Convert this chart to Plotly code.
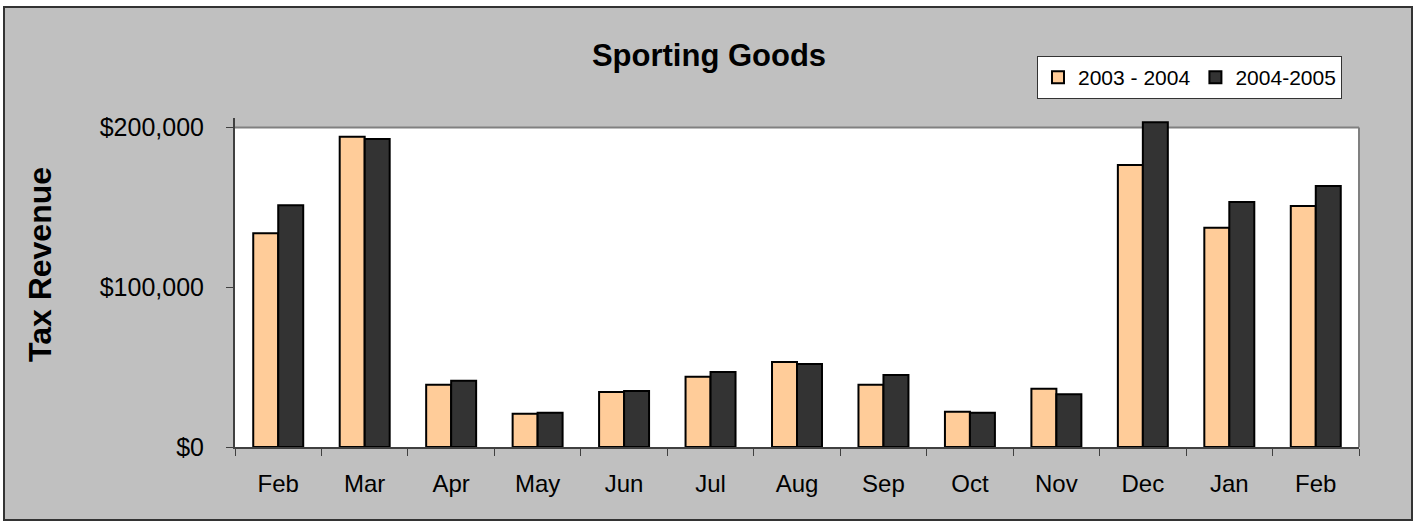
import plotly.graph_objects as go

months = ["Feb", "Mar", "Apr", "May", "Jun", "Jul", "Aug", "Sep", "Oct", "Nov", "Dec", "Jan", "Feb"]
rev_2003_2004 = [133800, 194200, 39000, 20800, 34400, 44000, 53200, 39000, 22100, 36500, 176500, 137300, 150900]
rev_2004_2005 = [151300, 192800, 41500, 21500, 35100, 46900, 52000, 45100, 21500, 33000, 203300, 153400, 163400]
y_ticks = [0, 100000, 200000]
y_tick_text = ["$0", "$100,000", "$200,000"]

W, H = 1418, 523
L, R, T, B = 235, 1359, 118, 447
YTOP = 200000
YMAX = YTOP * (B - T) / (B - 127.5)
pw, ph = R - L, B - T

def px_x(p):
    return (p - L) / pw

def px_y(p):
    return (B - p) / ph

FONT = "Arial, Liberation Sans, sans-serif"
x = list(range(len(months)))

fig = go.Figure()
fig.add_trace(go.Bar(x=x, y=rev_2003_2004, name="2003 - 2004",
                     marker=dict(color="#FFCC99", line=dict(color="#000000", width=2))))
fig.add_trace(go.Bar(x=x, y=rev_2004_2005, name="2004-2005",
                     marker=dict(color="#333333", line=dict(color="#000000", width=2))))

shapes = [
    # outer chart frame
    dict(type="rect", xref="paper", yref="paper", x0=px_x(4), x1=px_x(1412), y0=px_y(520), y1=px_y(7),
         fillcolor="#C0C0C0", line=dict(color="#333333", width=2), layer="below"),
    # plot area white background up to $200,000
    dict(type="rect", xref="paper", yref="y", x0=0, x1=1, y0=0, y1=YTOP,
         fillcolor="#FFFFFF", line=dict(width=0), layer="below"),
    dict(type="line", xref="paper", yref="y", x0=0, x1=1, y0=YTOP, y1=YTOP,
         line=dict(color="#808080", width=2), layer="below"),
    dict(type="line", xref="paper", yref="y", x0=1, x1=1, y0=0, y1=YTOP,
         line=dict(color="#808080", width=2), layer="below"),
]

annotations = [
    dict(text="<b>Tax Revenue</b>", xref="paper", yref="paper", x=px_x(40), y=px_y(265),
         xanchor="center", yanchor="middle", textangle=-90, showarrow=False,
         font=dict(size=32, family=FONT, color="#000000")),
]

fig.update_layout(
    width=W, height=H,
    margin=dict(l=L, r=W - R, t=T, b=H - B, pad=0),
    paper_bgcolor="#FFFFFF",
    plot_bgcolor="rgba(0,0,0,0)",
    barmode="group", bargap=0.422, bargroupgap=0,
    font=dict(family=FONT, color="#000000"),
    title=dict(text="<b>Sporting Goods</b>", x=709 / W, xanchor="center", xref="container",
               y=1 - 55 / H, yanchor="middle", yref="container",
               font=dict(size=31, family=FONT, color="#000000")),
    legend=dict(orientation="h", xref="container", yref="container",
                x=1037 / W, y=1 - 56 / H, xanchor="left", yanchor="top",
                bgcolor="#FFFFFF", bordercolor="#333333", borderwidth=1,
                font=dict(size=21, family=FONT, color="#000000"),
                itemclick=False, traceorder="normal"),
    shapes=shapes,
    annotations=annotations,
    showlegend=True,
)

fig.update_xaxes(
    range=[-0.5, len(months) - 0.5],
    tickmode="array", tickvals=x, ticktext=months,
    ticks="", showgrid=False, zeroline=False,
    showline=True, linecolor="#404040", linewidth=2,
    tickfont=dict(size=24, family=FONT, color="#000000"),
    ticklabelstandoff=14,
    minor=dict(tickmode="linear", tick0=-0.5, dtick=1, ticks="outside",
               ticklen=7, tickcolor="#404040", tickwidth=1, showgrid=False),
)
fig.update_yaxes(
    range=[0, YMAX],
    tickmode="array", tickvals=y_ticks, ticktext=y_tick_text,
    ticks="outside", ticklen=7, tickcolor="#404040", tickwidth=1,
    showgrid=False, zeroline=False,
    showline=True, linecolor="#404040", linewidth=2,
    tickfont=dict(size=25, family=FONT, color="#000000"),
    ticklabelstandoff=17,
)

fig.write_html("out.html", config={"displayModeBar": False},
               post_script="document.body.style.margin='0px';document.body.style.overflow='hidden';")
